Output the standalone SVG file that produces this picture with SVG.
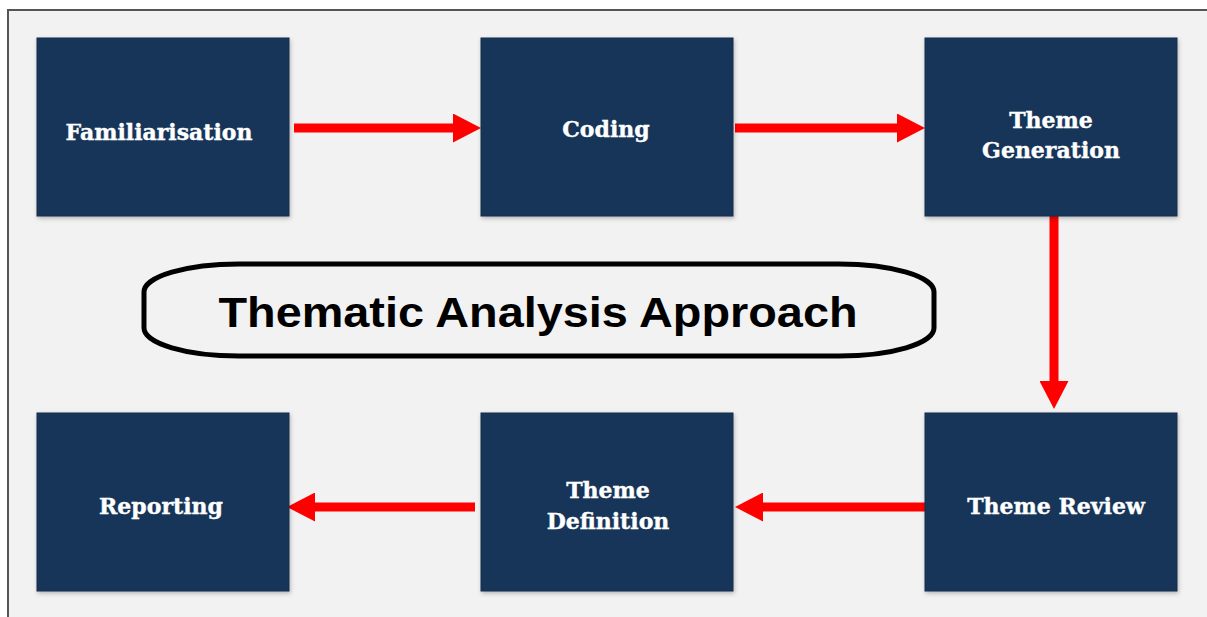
<svg xmlns="http://www.w3.org/2000/svg" width="1207" height="617" viewBox="0 0 1207 617">
<style>
.box{fill:#193659;stroke:#0f2a4d;stroke-width:1}
.lbl{font-family:"DejaVu Serif",serif;font-weight:bold;font-size:22px;fill:#ffffff;text-anchor:middle;stroke:#ffffff;stroke-width:0.4}
.conn line{stroke:#ff0000;stroke-width:9}
.title{font-family:"Liberation Sans",Arial,sans-serif;font-weight:bold;font-size:43px;fill:#000;text-anchor:middle}
</style>
<defs>
<marker id="ah" viewBox="0 0 28 29" refX="1" refY="14.5" markerUnits="userSpaceOnUse" markerWidth="28" markerHeight="29" orient="auto">
<path d="M0,0 L28,14.5 L0,29 Z" fill="#ff0000"/>
</marker>
<filter id="sh" x="-5%" y="-5%" width="115%" height="115%">
<feDropShadow dx="1" dy="2" stdDeviation="2" flood-color="#000" flood-opacity="0.25"/>
</filter>
</defs>
<rect x="0" y="0" width="1207" height="617" fill="#ffffff"/>
<rect x="8" y="10" width="1210" height="620" fill="#f2f2f2" stroke="#555555" stroke-width="2"/>

<g id="title">
<rect x="144" y="264" width="790" height="92" rx="95" ry="28" fill="none" stroke="#000" stroke-width="5"/>
<text class="title" x="538" y="327" textLength="639" lengthAdjust="spacingAndGlyphs">Thematic Analysis Approach</text>
</g>

<g class="conn" id="connectors">
<line x1="294" y1="128" x2="454" y2="128" marker-end="url(#ah)"/>
<line x1="735" y1="128" x2="898" y2="128" marker-end="url(#ah)"/>
<line x1="1054" y1="216" x2="1054" y2="382" marker-end="url(#ah)"/>
<line x1="925" y1="507" x2="762" y2="507" marker-end="url(#ah)"/>
<line x1="475" y1="507" x2="314" y2="507" marker-end="url(#ah)"/>
</g>

<g id="familiarisation">
<rect class="box" x="37" y="38" width="252" height="178" filter="url(#sh)"/>
<text class="lbl" x="159" y="140">Familiarisation</text>
</g>
<g id="coding">
<rect class="box" x="481" y="38" width="252" height="178" filter="url(#sh)"/>
<text class="lbl" x="606" y="137">Coding</text>
</g>
<g id="theme-generation">
<rect class="box" x="925" y="38" width="252" height="178" filter="url(#sh)"/>
<text class="lbl" x="1051" y="128">Theme</text>
<text class="lbl" x="1051" y="158">Generation</text>
</g>
<g id="theme-review">
<rect class="box" x="925" y="413" width="252" height="178" filter="url(#sh)"/>
<text class="lbl" x="1056" y="514">Theme Review</text>
</g>
<g id="theme-definition">
<rect class="box" x="481" y="413" width="252" height="178" filter="url(#sh)"/>
<text class="lbl" x="608" y="498">Theme</text>
<text class="lbl" x="608" y="529">Definition</text>
</g>
<g id="reporting">
<rect class="box" x="37" y="413" width="252" height="178" filter="url(#sh)"/>
<text class="lbl" x="161" y="514">Reporting</text>
</g>
</svg>
